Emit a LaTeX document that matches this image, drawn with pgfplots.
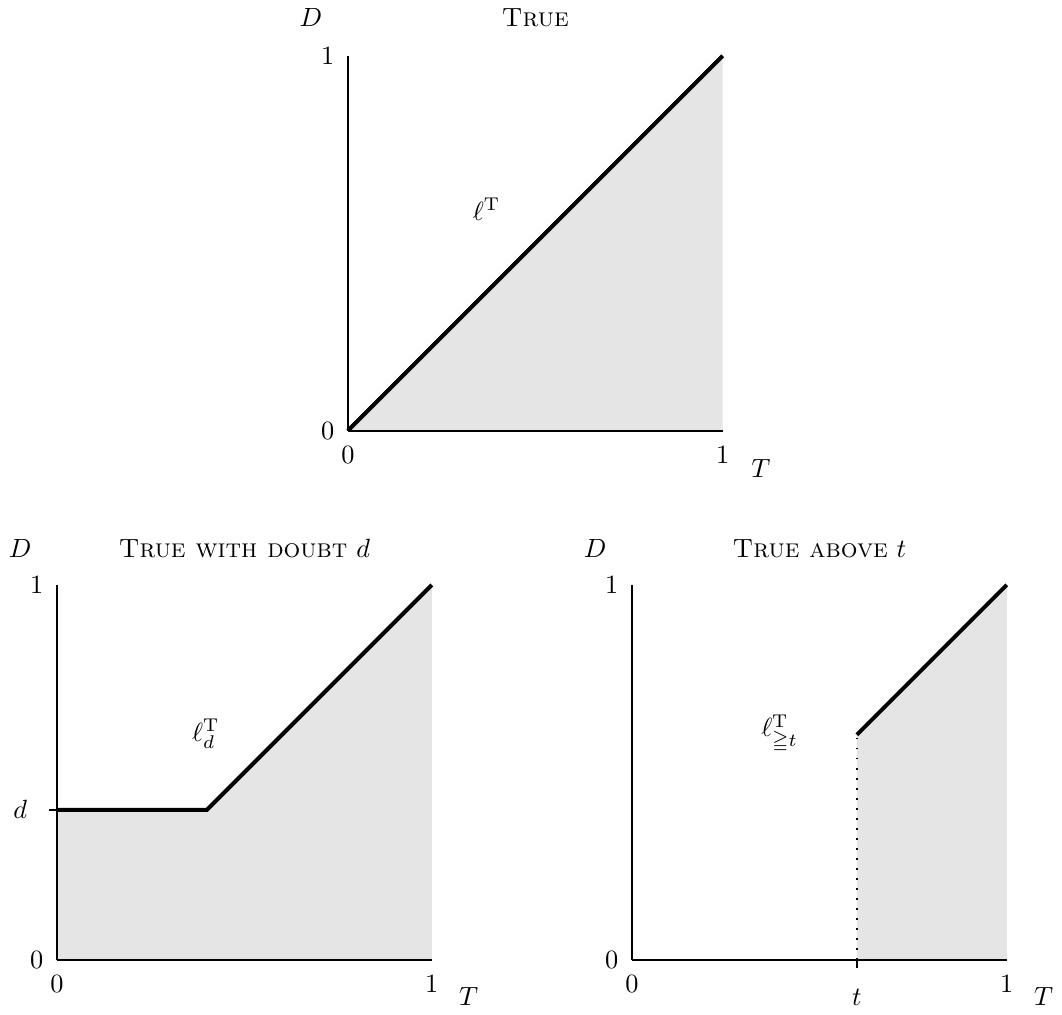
\documentclass[border=0pt]{standalone}
\usepackage{amssymb}
\usepackage{pgfplots}
\pgfplotsset{compat=1.18}

\definecolor{shade}{gray}{0.9}

\pgfplotsset{
  panel/.style={
    width=5cm, height=5cm, scale only axis,
    xmin=0, xmax=1, ymin=0, ymax=1,
    axis lines=left, axis line style={-, line width=0.75pt},
    xtick={0,1}, ytick={0,1},
    major tick length=0pt,
    xticklabel style={yshift=-2.5pt},
    yticklabel style={xshift=-1.6pt},
    axis on top, clip=false,
    anchor=south west,
  },
  curve/.style={black, line width=1.5pt, mark=none},
  area/.style={fill=shade, draw=none, mark=none},
}

\begin{document}
\begin{tikzpicture}
  % top: True
  \begin{axis}[panel, at={(110.4pt,200.8pt)}]
    \addplot[area] coordinates {(0,0) (1,1) (1,0)} -- cycle;
    \addplot[curve] coordinates {(0,0) (1,1)};
    \node at (axis cs:0.37,0.59) {$\ell^{\mathrm{T}}$};
    \node[anchor=base, yshift=11pt] at (rel axis cs:0.5,1) {\textsc{True}};
    \node[anchor=base, yshift=11pt, xshift=-14pt] at (rel axis cs:0,1) {$D$};
    \node[xshift=14.5pt, yshift=-14.5pt] at (rel axis cs:1,0) {$T$};
  \end{axis}

  % bottom left: True with doubt d
  \begin{axis}[panel, at={(0pt,0pt)},
      extra y ticks={0.4}, extra y tick labels={$d$},
      extra y tick style={major tick length=3pt, tick align=outside,
        tick style={black, line width=0.6pt},
        tick label style={xshift=-3.2pt}}]
    \addplot[area] coordinates {(0,0) (0,0.4) (0.4,0.4) (1,1) (1,0)} -- cycle;
    \addplot[curve] coordinates {(0,0.4) (0.4,0.4) (1,1)};
    \node at (axis cs:0.397,0.603) {$\ell^{\mathrm{T}}_{d}$};
    \node[anchor=base, yshift=10.3pt] at (rel axis cs:0.5,1) {\textsc{True with doubt} $d$};
    \node[anchor=base, yshift=10.3pt, xshift=-14pt] at (rel axis cs:0,1) {$D$};
    \node[xshift=14pt, yshift=-14pt] at (rel axis cs:1,0) {$T$};
  \end{axis}

  % bottom right: True above t
  \begin{axis}[panel, at={(218.2pt,0pt)},
      extra x ticks={0.6}, extra x tick labels={$t$},
      extra x tick style={major tick length=3pt, tick align=outside,
        tick style={black, line width=0.6pt},
        tick label style={yshift=-2pt}}]
    \addplot[area] coordinates {(0.6,0) (0.6,0.6) (1,1) (1,0)} -- cycle;
    \addplot[black, line width=0.7pt, dash pattern=on 0.7pt off 3.1pt, mark=none] coordinates {(0.6,0) (0.6,0.6)};
    \addplot[curve] coordinates {(0.6,0.6) (1,1)};
    \node at (axis cs:0.394,0.603) {$\ell^{\mathrm{T}}_{\geqq t}$};
    \node[anchor=base, yshift=10.3pt] at (rel axis cs:0.5,1) {\textsc{True above} $t$};
    \node[anchor=base, yshift=10.3pt, xshift=-14pt] at (rel axis cs:0,1) {$D$};
    \node[xshift=14pt, yshift=-14pt] at (rel axis cs:1,0) {$T$};
  \end{axis}
\end{tikzpicture}
\end{document}
